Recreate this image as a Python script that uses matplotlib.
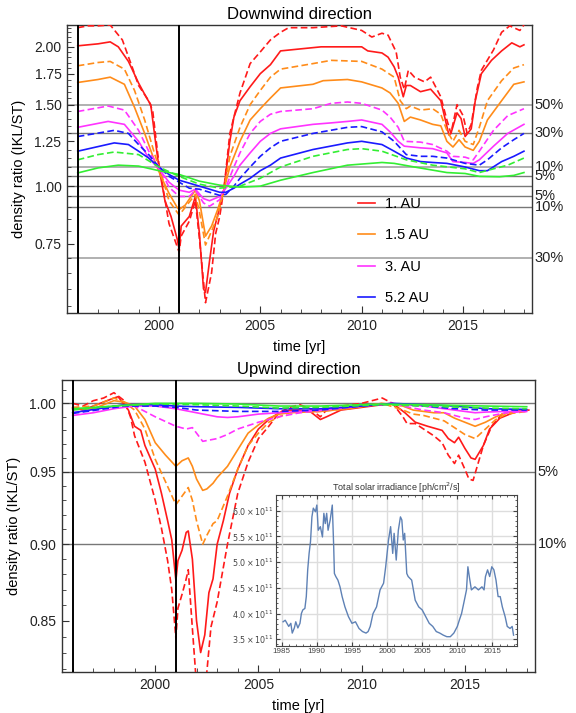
import matplotlib
matplotlib.use("Agg")
import matplotlib.pyplot as plt
import matplotlib.ticker as mticker
import matplotlib.transforms as mtransforms
import numpy as np

plt.rcParams['font.family'] = ['Liberation Sans', 'DejaVu Sans']

# ---------------- Downwind data ----------------
d_red_s_t = [1996.0, 1996.5, 1997.0, 1997.6, 1998.0, 1998.5, 1999.0, 1999.4, 1999.6, 1999.8, 2000.0, 2000.3,
             2000.6, 2000.9, 2001.0, 2001.1, 2001.5, 2001.8, 2002.0, 2002.2, 2002.3, 2002.5, 2002.7, 2003.0,
             2003.2, 2003.5, 2003.7, 2004.0, 2004.5, 2005.0, 2005.5, 2006.0, 2007.0, 2008.0, 2009.0, 2010.0,
             2010.3, 2011.0, 2011.3, 2011.6, 2011.8, 2012.05, 2012.2, 2012.4, 2012.9, 2013.4, 2013.9, 2014.3,
             2014.4, 2014.7, 2014.9, 2015.1, 2015.4, 2015.6, 2015.9, 2016.4, 2016.9, 2017.4, 2017.8, 2018.0]
d_red_s_v = [2.01, 2.02, 2.03, 2.05, 2.0, 1.86, 1.67, 1.55, 1.50, 1.28, 1.10, 0.93,
             0.86, 0.77, 0.73, 0.82, 0.86, 0.95, 0.79, 0.60, 0.59, 0.69, 0.80, 0.90,
             0.98, 1.25, 1.41, 1.53, 1.64, 1.75, 1.83, 1.96, 1.98, 2.0, 2.0, 2.0,
             1.96, 1.94, 1.90, 1.81, 1.72, 1.56, 1.65, 1.65, 1.60, 1.62, 1.53, 1.29,
             1.30, 1.44, 1.40, 1.28, 1.33, 1.53, 1.75, 1.87, 1.96, 2.04, 2.0, 2.02]

d_red_d_t = [1996.0, 1996.5, 1997.0, 1997.6, 1998.2, 1998.7, 1999.0, 1999.5, 1999.7, 2000.0, 2000.5, 2001.0,
             2001.1, 2001.5, 2001.8, 2002.0, 2002.3, 2002.6, 2002.8, 2003.0, 2003.2, 2003.5, 2003.7, 2004.0,
             2004.5, 2005.0, 2005.5, 2006.0, 2006.4, 2007.6, 2009.0, 2010.0, 2010.5, 2011.0, 2011.3, 2011.7,
             2011.9, 2012.1, 2012.3, 2012.6, 2013.1, 2013.4, 2013.9, 2014.2, 2014.4, 2014.7, 2015.0, 2015.2,
             2015.4, 2015.7, 2015.9, 2016.5, 2016.9, 2017.3, 2017.8, 2018.0]
d_red_d_v = [2.2, 2.22, 2.22, 2.23, 2.07, 1.80, 1.65, 1.53, 1.45, 1.12, 0.83, 0.72,
             0.78, 0.84, 0.93, 0.77, 0.56, 0.65, 0.79, 0.86, 0.98, 1.30, 1.41, 1.59,
             1.84, 1.95, 2.07, 2.15, 2.2, 2.2, 2.22, 2.17, 2.10, 2.14, 2.12, 1.95,
             1.72, 1.62, 1.78, 1.72, 1.68, 1.72, 1.56, 1.39, 1.30, 1.50, 1.42, 1.30,
             1.36, 1.63, 1.78, 1.97, 2.15, 2.22, 2.17, 2.23]

d_org_s_t = [1996.0, 1997.0, 1997.6, 1998.3, 1998.8, 1999.3, 1999.8, 2000.1, 2000.5, 2000.9, 2001.0, 2001.3,
             2001.8, 2002.0, 2002.3, 2002.6, 2002.9, 2003.2, 2003.5, 2004.0, 2004.5, 2005.0, 2005.5, 2006.0,
             2007.6, 2008.1, 2009.3, 2010.0, 2011.0, 2011.4, 2011.8, 2012.1, 2012.4, 2012.9, 2013.5, 2013.9,
             2014.2, 2014.5, 2014.8, 2015.1, 2015.5, 2015.8, 2016.2, 2016.9, 2017.5, 2018.0]
d_org_s_v = [1.675, 1.70, 1.72, 1.66, 1.48, 1.30, 1.13, 1.05, 0.965, 0.90, 0.89, 0.91,
             0.98, 0.93, 0.78, 0.82, 0.89, 0.98, 1.10, 1.25, 1.39, 1.47, 1.55, 1.63,
             1.66, 1.69, 1.70, 1.68, 1.63, 1.59, 1.51, 1.38, 1.41, 1.39, 1.36, 1.35,
             1.25, 1.215, 1.26, 1.215, 1.195, 1.25, 1.39, 1.53, 1.66, 1.68]

d_org_d_t = [1996.0, 1997.0, 1997.6, 1998.3, 1998.8, 1999.3, 1999.8, 2000.1, 2000.5, 2001.0, 2001.3, 2001.8,
             2002.0, 2002.3, 2002.6, 2002.9, 2003.2, 2003.5, 2004.0, 2004.5, 2005.0, 2005.5, 2006.0, 2007.6,
             2008.5, 2010.0, 2011.0, 2011.6, 2011.9, 2012.2, 2012.4, 2012.9, 2013.5, 2013.9, 2014.2, 2014.5,
             2014.8, 2015.1, 2015.5, 2015.8, 2016.2, 2016.9, 2017.5, 2018.0]
d_org_d_v = [1.82, 1.85, 1.86, 1.79, 1.61, 1.39, 1.17, 1.07, 0.93, 0.866, 0.90, 0.96,
             0.88, 0.746, 0.80, 0.86, 0.98, 1.16, 1.34, 1.50, 1.61, 1.72, 1.79, 1.84,
             1.87, 1.86, 1.79, 1.72, 1.53, 1.47, 1.49, 1.46, 1.47, 1.43, 1.32, 1.25,
             1.32, 1.25, 1.23, 1.34, 1.53, 1.69, 1.80, 1.83]

d_mag_t = [1996.0, 1997.5, 1998.3, 1999.0, 1999.5, 2000.0, 2000.5, 2001.0, 2001.5, 2001.8, 2002.2, 2002.5,
           2003.0, 2003.3, 2003.7, 2004.0, 2004.5, 2005.0, 2005.5, 2006.0, 2007.6, 2008.5, 2009.3, 2010.0,
           2011.0, 2011.4, 2011.8, 2012.1, 2012.9, 2013.5, 2014.2, 2014.5, 2015.1, 2015.5, 2015.8, 2016.5,
           2017.2, 2018.0]
d_mag_s_v = [1.34, 1.38, 1.36, 1.25, 1.15, 1.09, 1.02, 0.98, 0.97, 0.985, 0.94, 0.93,
             0.95, 0.99, 1.05, 1.11, 1.18, 1.25, 1.30, 1.33, 1.36, 1.37, 1.38, 1.39,
             1.36, 1.31, 1.25, 1.22, 1.21, 1.205, 1.18, 1.13, 1.125, 1.12, 1.14, 1.22,
             1.30, 1.36]
d_mag_d_v = [1.45, 1.49, 1.46, 1.32, 1.19, 1.10, 0.995, 0.95, 0.95, 0.98, 0.92, 0.905,
             0.935, 0.995, 1.10, 1.18, 1.30, 1.38, 1.43, 1.45, 1.47, 1.51, 1.52, 1.51,
             1.46, 1.41, 1.34, 1.25, 1.245, 1.23, 1.19, 1.16, 1.155, 1.14, 1.19, 1.32,
             1.42, 1.47]

d_blu_t = [1996.0, 1997.8, 1998.5, 1999.0, 1999.5, 2000.0, 2000.5, 2001.0, 2001.5, 2002.0, 2002.5, 2003.0,
           2003.3, 2003.7, 2004.0, 2004.5, 2005.0, 2005.5, 2006.0, 2007.6, 2009.3, 2010.0, 2011.0, 2011.6,
           2012.2, 2012.9, 2013.5, 2014.2, 2015.1, 2015.8, 2016.2, 2016.9, 2017.5, 2018.0]
d_blu_s_v = [1.19, 1.24, 1.23, 1.19, 1.15, 1.10, 1.06, 1.03, 1.015, 1.00, 0.985, 0.97,
             0.97, 0.99, 1.01, 1.04, 1.08, 1.11, 1.15, 1.20, 1.24, 1.25, 1.23, 1.19,
             1.15, 1.13, 1.125, 1.12, 1.10, 1.08, 1.08, 1.13, 1.16, 1.19]
d_blu_d_v = [1.28, 1.32, 1.30, 1.23, 1.17, 1.10, 1.05, 1.02, 0.99, 0.985, 0.97, 0.955,
             0.96, 1.00, 1.04, 1.10, 1.16, 1.21, 1.25, 1.30, 1.34, 1.345, 1.31, 1.25,
             1.17, 1.16, 1.16, 1.15, 1.12, 1.11, 1.14, 1.21, 1.26, 1.30]

d_grn_s_t = [1996.0, 1997.0, 1998.0, 1999.0, 2000.0, 2001.0, 2002.0, 2003.0, 2004.0, 2005.0, 2006.0, 2007.6,
             2009.3, 2011.0, 2011.6, 2012.6, 2014.2, 2015.1, 2015.8, 2016.8, 2017.5, 2018.0]
d_grn_s_v = [1.068, 1.095, 1.11, 1.105, 1.08, 1.06, 1.025, 1.005, 0.995, 1.00, 1.03, 1.07,
             1.11, 1.125, 1.12, 1.10, 1.07, 1.065, 1.05, 1.048, 1.055, 1.07]
d_grn_d_t = [1996.0, 1997.0, 1997.8, 1999.0, 2000.0, 2001.0, 2002.0, 2003.0, 2004.0, 2005.0, 2006.0, 2007.6,
             2009.3, 2010.0, 2011.0, 2012.2, 2013.5, 2015.1, 2015.8, 2016.5, 2017.2, 2018.0]
d_grn_d_v = [1.14, 1.17, 1.185, 1.17, 1.10, 1.05, 1.01, 0.99, 1.0, 1.04, 1.10, 1.16,
             1.20, 1.205, 1.19, 1.14, 1.11, 1.09, 1.07, 1.09, 1.11, 1.15]

# ---------------- Upwind data ----------------
u_red_s_t = [1996.0, 1996.5, 1997.0, 1997.5, 1998.0, 1998.2, 1998.7, 1999.0, 1999.3, 1999.5, 2000.0, 2000.3,
             2000.6, 2000.8, 2001.0, 2001.1, 2001.3, 2001.5, 2001.6, 2001.8, 2002.0, 2002.2, 2002.4, 2002.6,
             2002.8, 2003.0, 2003.3, 2003.6, 2004.0, 2004.5, 2005.0, 2005.5, 2006.0, 2006.5, 2007.0, 2007.5,
             2008.0, 2008.3, 2009.0, 2010.0, 2011.0, 2011.5, 2012.1, 2012.6, 2013.2, 2013.9, 2014.2, 2014.5,
             2014.7, 2015.0, 2015.3, 2015.5, 2015.9, 2016.2, 2016.7, 2017.5, 2018.1]
u_red_s_v = [0.997, 0.995, 0.998, 1.001, 1.004, 1.005, 0.995, 0.983, 0.98, 0.969, 0.952, 0.935,
             0.916, 0.903, 0.876, 0.889, 0.896, 0.908, 0.909, 0.89, 0.85, 0.83, 0.841, 0.868,
             0.877, 0.90, 0.916, 0.935, 0.952, 0.969, 0.981, 0.988, 0.993, 0.995, 0.995, 0.994,
             0.988, 0.99, 0.995, 0.997, 0.999, 1.0, 0.993, 0.986, 0.983, 0.98, 0.974, 0.971,
             0.975, 0.967, 0.96, 0.959, 0.969, 0.981, 0.989, 0.994, 0.995]

u_red_d_t = [1996.0, 1996.5, 1997.0, 1997.5, 1998.0, 1998.5, 1998.8, 1999.0, 1999.5, 2000.0, 2000.3, 2000.6,
             2000.8, 2001.0, 2001.1, 2001.3, 2001.5, 2001.6, 2001.8, 2002.0, 2002.3, 2002.5, 2002.7, 2003.0,
             2003.5, 2004.0, 2004.5, 2005.0, 2005.5, 2006.0, 2006.5, 2007.0, 2007.5, 2008.0, 2008.3, 2009.0,
             2010.0, 2011.0, 2011.5, 2012.0, 2012.2, 2012.6, 2013.0, 2013.5, 2013.9, 2014.2, 2014.5, 2014.7,
             2015.0, 2015.2, 2015.4, 2015.6, 2015.9, 2016.3, 2016.8, 2017.5, 2018.0]
u_red_d_v = [1.0, 0.998, 1.002, 1.004, 1.008, 1.002, 0.99, 0.976, 0.957, 0.93, 0.911, 0.889,
             0.87, 0.839, 0.858, 0.867, 0.877, 0.883, 0.845, 0.81, 0.80, 0.818, 0.846, 0.862,
             0.90, 0.935, 0.957, 0.974, 0.983, 0.993, 0.997, 0.999, 0.996, 0.99, 0.995, 0.998,
             1.0, 1.004, 1.0, 0.99, 0.985, 0.985, 0.981, 0.976, 0.971, 0.962, 0.956, 0.962,
             0.952, 0.945, 0.944, 0.954, 0.969, 0.983, 0.992, 0.995, 0.995]

u_org_t = [1996.0, 1997.0, 1998.0, 1998.5, 1999.0, 1999.5, 2000.0, 2000.5, 2001.0, 2001.3, 2001.6, 2001.8,
           2002.0, 2002.3, 2002.5, 2002.8, 2003.0, 2003.5, 2004.0, 2004.5, 2005.0, 2005.5, 2006.0, 2006.5,
           2008.0, 2009.3, 2011.0, 2012.0, 2012.5, 2013.0, 2013.5, 2014.0, 2014.5, 2015.0, 2015.5, 2016.0,
           2016.5, 2017.0, 2018.0]
u_org_s_v = [0.996, 0.996, 1.002, 1.001, 0.998, 0.988, 0.971, 0.962, 0.954, 0.958, 0.96, 0.954,
             0.945, 0.937, 0.938, 0.942, 0.946, 0.954, 0.966, 0.978, 0.984, 0.989, 0.992, 0.993,
             0.994, 0.996, 1.0, 0.998, 0.995, 0.994, 0.993, 0.993, 0.989, 0.986, 0.983, 0.986,
             0.99, 0.993, 0.995]
u_org_d_v = [0.997, 0.998, 1.004, 1.001, 0.995, 0.981, 0.959, 0.943, 0.927, 0.933, 0.939, 0.93,
             0.916, 0.90, 0.906, 0.914, 0.916, 0.933, 0.952, 0.969, 0.978, 0.986, 0.99, 0.993,
             0.994, 0.996, 1.0, 0.995, 0.992, 0.991, 0.989, 0.987, 0.982, 0.977, 0.974, 0.981,
             0.988, 0.992, 0.994]

u_mag_s_t = [1996.0, 1997.0, 1998.0, 1999.0, 2000.0, 2001.0, 2002.0, 2003.0, 2003.5, 2004.0, 2005.0, 2006.0,
             2007.0, 2010.0, 2011.5, 2012.0, 2013.0, 2014.0, 2015.0, 2015.5, 2016.0, 2017.0, 2018.0]
u_mag_s_v = [0.991, 0.993, 0.996, 0.998, 0.998, 0.996, 0.993, 0.99, 0.9895, 0.99, 0.992, 0.993,
             0.994, 0.998, 1.0, 0.999, 0.998, 0.996, 0.994, 0.993, 0.9935, 0.994, 0.994]
u_mag_d_t = [1996.0, 1997.0, 1998.0, 1999.0, 2000.0, 2001.0, 2001.5, 2001.8, 2002.3, 2003.0, 2003.5, 2004.0,
             2005.0, 2006.0, 2007.0, 2010.0, 2011.5, 2012.0, 2013.0, 2014.0, 2015.0, 2015.5, 2016.0, 2017.0,
             2018.0]
u_mag_d_v = [0.993, 0.995, 0.998, 0.998, 0.99, 0.983, 0.981, 0.982, 0.972, 0.974, 0.977, 0.981,
             0.986, 0.99, 0.993, 0.998, 1.0, 0.998, 0.995, 0.993, 0.989, 0.988, 0.99, 0.993,
             0.994]

u_blu_t = [1996.0, 1998.5, 2000.0, 2001.0, 2002.0, 2004.0, 2006.0, 2008.0, 2010.0, 2011.5, 2013.0, 2014.5,
           2016.0, 2018.0]
u_blu_s_v = [0.993, 0.999, 0.999, 0.998, 0.9975, 0.997, 0.996, 0.996, 0.998, 1.0, 0.999, 0.998, 0.996, 0.9955]
u_blu_d_v = [0.9925, 0.998, 0.998, 0.997, 0.995, 0.994, 0.994, 0.995, 0.998, 0.9995, 0.998, 0.996, 0.995, 0.995]

u_grn_t = [1996.0, 1998.0, 2000.0, 2002.0, 2004.0, 2006.0, 2008.0, 2011.0, 2013.0, 2016.0, 2018.0]
u_grn_s_v = [0.996, 0.998, 1.0, 1.0, 0.9995, 0.998, 0.998, 0.9995, 0.999, 0.998, 0.9975]
u_grn_d_v = [0.995, 0.998, 0.9995, 0.999, 0.998, 0.9965, 0.997, 0.999, 0.998, 0.9965, 0.996]

# ---------------- Inset: total solar irradiance (units of 1e11 ph/cm^2/s) ----------------
tsi_t = [1985.2, 1985.5, 1986.0, 1986.3, 1986.5, 1986.8, 1987.0, 1987.3, 1987.6, 1987.8, 1988.0, 1988.3,
         1988.5, 1988.7, 1988.9, 1989.1, 1989.3, 1989.5, 1989.8, 1990.0, 1990.2, 1990.5, 1990.8, 1991.0,
         1991.2, 1991.4, 1991.6, 1991.9, 1992.2, 1992.4, 1992.5, 1992.7, 1993.0, 1993.3, 1993.6, 1994.0,
         1994.5, 1995.0, 1995.5, 1996.0, 1996.5, 1997.0, 1997.3, 1997.6, 1998.0, 1998.5, 1999.0, 1999.5,
         1999.8, 2000.0, 2000.2, 2000.5, 2000.8, 2001.0, 2001.3, 2001.6, 2001.9, 2002.1, 2002.3, 2002.5,
         2002.8, 2003.0, 2003.5, 2004.0, 2004.5, 2005.0, 2005.5, 2006.0, 2006.5, 2007.0, 2007.5, 2008.0,
         2008.5, 2009.0, 2009.5, 2010.0, 2010.3, 2010.6, 2011.0, 2011.3, 2011.5, 2011.7, 2012.0, 2012.5,
         2013.0, 2013.5, 2013.8, 2014.0, 2014.3, 2014.6, 2014.9, 2015.2, 2015.5, 2015.8, 2016.1, 2016.4,
         2016.8, 2017.1, 2017.5, 2017.8, 2018.0]
tsi_v = [3.84, 3.87, 3.75, 3.81, 3.62, 3.72, 3.84, 3.72, 3.81, 4.0, 4.07, 4.10,
         4.33, 4.85, 5.17, 5.40, 5.88, 6.05, 5.98, 6.11, 5.62, 5.69, 5.49, 5.95,
         5.75, 5.95, 5.62, 5.82, 6.11, 5.30, 4.78, 4.72, 4.65, 4.52, 4.33, 4.13,
         3.94, 3.81, 3.84, 3.71, 3.65, 3.62, 3.65, 3.75, 4.0, 4.13, 4.46, 4.59,
         4.91, 5.17, 5.43, 5.69, 5.17, 5.56, 5.04, 5.62, 5.88, 5.82, 5.43, 5.56,
         4.78, 4.72, 4.65, 4.26, 4.13, 4.07, 3.94, 3.81, 3.75, 3.65, 3.62, 3.58,
         3.55, 3.55, 3.62, 3.75, 3.88, 4.0, 4.26, 4.46, 4.91, 4.72, 4.46, 4.52,
         4.46, 4.52, 4.46, 4.72, 4.85, 4.72, 4.91, 4.85, 4.65, 4.33, 4.33, 4.13,
         3.94, 3.75, 3.71, 3.75, 3.58]

legend_labels = ["1. AU", "1.5 AU", "3. AU", "5.2 AU"]
down_ref_levels = [1.5, 1.3, 1.1, 1.05, 1.0, 0.95, 0.9, 0.7]
down_ref_labels = ["50%", "30%", "10%", "5%", "", "5%", "10%", "30%"]
up_ref_levels = [1.0, 0.95, 0.9]
up_ref_labels = ["", "5%", "10%"]
event_years = [1996.0, 2001.0]

RED, ORG, MAG, BLU, GRN = '#ff1a1a', '#ff8c1a', '#ff33ff', '#1a1aff', '#33ee33'
DASH = (0, (4, 2))
LW = 1.2

fig = plt.figure(figsize=(5.76, 7.13), dpi=100)
ax1 = fig.add_axes([0.1163, 0.561, 0.8074, 0.404])
ax2 = fig.add_axes([0.1072, 0.0575, 0.8216, 0.4095])


def style_axis(ax):
    for s in ax.spines.values():
        s.set_color('#333333')
        s.set_linewidth(1.0)
    ax.tick_params(which='both', direction='in', top=False, right=False, colors='#333333',
                   labelcolor='#222222', labelsize=10)
    ax.tick_params(which='major', length=5, pad=4)
    ax.tick_params(which='minor', length=3)
    ax.xaxis.set_major_locator(mticker.FixedLocator([2000, 2005, 2010, 2015]))
    ax.xaxis.set_minor_locator(mticker.MultipleLocator(1))
    ax.xaxis.set_major_formatter(mticker.FormatStrFormatter('%d'))
    ax.set_xlim(1995.47, 2018.4)
    ax.set_xlabel('time [yr]', fontsize=10.5, labelpad=5)
    ax.set_ylabel('density ratio (IKL/ST)', fontsize=10.5, labelpad=6)


def ref_lines(ax, levels, labels):
    trans = mtransforms.blended_transform_factory(ax.transAxes, ax.transData)
    for lv, lb in zip(levels, labels):
        light = lv in (1.5, 1.1, 0.7)
        ax.axhline(lv, color='#aaaaaa' if light else '#777777', lw=1.3 if light else 1.0, zorder=1)
        if lb:
            ax.text(1.006, lv, lb, transform=trans, ha='left', va='center', fontsize=10.5,
                    color='#222222', clip_on=False)
    for ev in event_years:
        ax.axvline(ev, color='black', lw=1.4, zorder=5)


# ---- Top: downwind ----
style_axis(ax1)
ax1.set_yscale('log')
ax1.set_ylim(0.532, 2.23)
ax1.yaxis.set_major_locator(mticker.FixedLocator([0.75, 1.0, 1.25, 1.5, 1.75, 2.0]))
ax1.yaxis.set_major_formatter(mticker.FormatStrFormatter('%.2f'))
ax1.yaxis.set_minor_locator(mticker.FixedLocator([x / 100 for x in range(55, 225, 5)]))
ax1.yaxis.set_minor_formatter(mticker.NullFormatter())
ref_lines(ax1, down_ref_levels, down_ref_labels)

h1, = ax1.plot(d_red_s_t, d_red_s_v, color=RED, lw=LW, zorder=3)
ax1.plot(d_red_d_t, d_red_d_v, color=RED, lw=LW, ls=DASH, zorder=3)
h2, = ax1.plot(d_org_s_t, d_org_s_v, color=ORG, lw=LW, zorder=3)
ax1.plot(d_org_d_t, d_org_d_v, color=ORG, lw=LW, ls=DASH, zorder=3)
h3, = ax1.plot(d_mag_t, d_mag_s_v, color=MAG, lw=LW, zorder=3)
ax1.plot(d_mag_t, d_mag_d_v, color=MAG, lw=LW, ls=DASH, zorder=3)
h4, = ax1.plot(d_blu_t, d_blu_s_v, color=BLU, lw=LW, zorder=3)
ax1.plot(d_blu_t, d_blu_d_v, color=BLU, lw=LW, ls=DASH, zorder=3)
ax1.plot(d_grn_s_t, d_grn_s_v, color=GRN, lw=LW, zorder=3)
ax1.plot(d_grn_d_t, d_grn_d_v, color=GRN, lw=LW, ls=DASH, zorder=3)
ax1.set_title('Downwind direction', fontsize=12, pad=4)

leg = ax1.legend([h1, h2, h3, h4], legend_labels, loc='upper left', bbox_to_anchor=(0.625, 0.403),
                 frameon=False, fontsize=10.5, handlelength=1.2, handletextpad=0.7,
                 labelspacing=1.2, borderpad=0, borderaxespad=0)
for ln in leg.get_lines():
    ln.set_linewidth(1.2)

# ---- Bottom: upwind ----
style_axis(ax2)
ax2.set_yscale('log')
ax2.set_ylim(0.818, 1.0176)
ax2.yaxis.set_major_locator(mticker.FixedLocator([0.85, 0.90, 0.95, 1.00]))
ax2.yaxis.set_major_formatter(mticker.FormatStrFormatter('%.2f'))
ax2.yaxis.set_minor_locator(mticker.FixedLocator([x / 100 for x in range(82, 102)]))
ax2.yaxis.set_minor_formatter(mticker.NullFormatter())
ref_lines(ax2, up_ref_levels, up_ref_labels)

ax2.plot(u_red_s_t, u_red_s_v, color=RED, lw=LW, zorder=3)
ax2.plot(u_red_d_t, u_red_d_v, color=RED, lw=LW, ls=DASH, zorder=3)
ax2.plot(u_org_t, u_org_s_v, color=ORG, lw=LW, zorder=3)
ax2.plot(u_org_t, u_org_d_v, color=ORG, lw=LW, ls=DASH, zorder=3)
ax2.plot(u_mag_s_t, u_mag_s_v, color=MAG, lw=LW, zorder=3)
ax2.plot(u_mag_d_t, u_mag_d_v, color=MAG, lw=LW, ls=DASH, zorder=3)
ax2.plot(u_blu_t, u_blu_s_v, color=BLU, lw=LW, zorder=3)
ax2.plot(u_blu_t, u_blu_d_v, color=BLU, lw=LW, ls=DASH, zorder=3)
ax2.plot(u_grn_t, u_grn_s_v, color=GRN, lw=LW, zorder=3)
ax2.plot(u_grn_t, u_grn_d_v, color=GRN, lw=LW, ls=DASH, zorder=3)
ax2.set_title('Upwind direction', fontsize=12, pad=4)

# ---- Inset ----
axi = fig.add_axes([0.4787, 0.0944, 0.419, 0.2113])
axi.patch.set_alpha(0.0)
axi.plot(tsi_t, tsi_v, color='#5e81b5', lw=1.0)
axi.set_xlim(1984.15, 2018.5)
axi.set_ylim(3.375, 6.305)
axi.xaxis.set_major_locator(mticker.MultipleLocator(5))
axi.xaxis.set_minor_locator(mticker.MultipleLocator(1))
axi.yaxis.set_major_locator(mticker.MultipleLocator(0.5))
axi.yaxis.set_minor_locator(mticker.MultipleLocator(0.1))
axi.xaxis.set_major_formatter(mticker.FormatStrFormatter('%d'))
axi.yaxis.set_major_formatter(mticker.FuncFormatter(lambda v, p: r'$%.1f\times10^{11}$' % v))
axi.grid(True, which='major', color='#dddddd', lw=1.0)
axi.set_axisbelow(True)
axi.tick_params(which='both', direction='in', top=True, right=True, colors='#444444',
                labelcolor='#444444', labelsize=5.8, pad=2)
axi.tick_params(which='major', length=3)
axi.tick_params(which='minor', length=1.5)
for s in axi.spines.values():
    s.set_color('#444444')
axi.set_title('Total solar irradiance [ph/cm$^2$/s]', fontsize=6.5, pad=2, color='#333333')

fig.savefig('out.png', dpi=100)
